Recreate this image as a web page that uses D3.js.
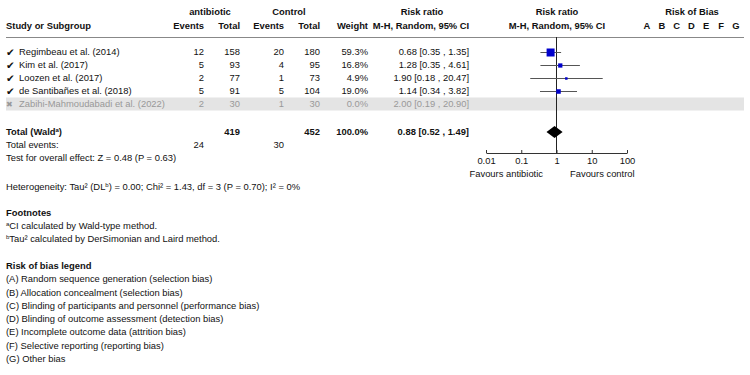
<!DOCTYPE html>
<html lang="en">
<head>
<meta charset="UTF-8">
<title>Forest plot</title>
<script src="https://cdn.jsdelivr.net/npm/d3@7"></script>
<style>
    body{margin:0;background:#fff;}
    svg text{font-family:"Liberation Sans",Arial,sans-serif;font-size:9.4px;fill:#111;}
    .b{font-weight:bold;}
    .axis .domain,.axis line{stroke:#333;}
</style>
</head>
<body>
<svg width="750" height="375"></svg>
<script>
    // study data
    var studies = ['Regimbeau et al. (2014)','Kim et al. (2017)','Loozen et al. (2017)','de Santibañes et al. (2018)','Zabihi-Mahmoudabadi et al. (2022)'];
    var eventsA = [12,5,2,5,2];
    var totalA = [158,93,77,91,30];
    var eventsC = [20,4,1,5,1];
    var totalC = [180,95,73,104,30];
    var weights = [59.3,16.8,4.9,19.0,0.0];
    var rr = [0.68,1.28,1.90,1.14,2.00];
    var lo = [0.35,0.35,0.18,0.34,0.19];
    var hi = [1.35,4.61,20.47,3.82,20.90];
    var included = [true,true,true,true,false];
    // pooled
    var total = {nA:419,nC:452,eA:24,eC:30,w:'100.0%',rr:0.88,lo:0.52,hi:1.49};
    var axisTicks = [0.01,0.1,1,10,100];
    var robLetters = ['A','B','C','D','E','F','G'];
    var robLegend = ['(A) Random sequence generation (selection bias)','(B) Allocation concealment (selection bias)',
        '(C) Blinding of participants and personnel (performance bias)','(D) Blinding of outcome assessment (detection bias)',
        '(E) Incomplete outcome data (attrition bias)','(F) Selective reporting (reporting bias)','(G) Other bias'];

    var svg = d3.select('svg');
    var x = d3.scaleLog().domain([0.01,100]).range([486,627]);
    var rowY = d3.scaleLinear().domain([0,1]).range([52,65]); // row index -> y
    var size = d3.scaleSqrt().domain([0,59.3]).range([0,8]);

    function txt(xp,yp,s,anchor,cls){
        return svg.append('text').attr('x',xp).attr('y',yp).attr('dy','0.35em')
            .attr('text-anchor',anchor||'start').attr('class',cls||null).text(s);
    }

    // headers
    txt(210,12,'antibiotic','middle','b');
    txt(289,12,'Control','middle','b');
    txt(422,12,'Risk ratio','middle','b');
    txt(557,12,'Risk ratio','middle','b');
    txt(692,12,'Risk of Bias','middle','b');
    txt(6,26,'Study or Subgroup','start','b');
    txt(204,26,'Events','end','b');
    txt(240,26,'Total','end','b');
    txt(284,26,'Events','end','b');
    txt(320,26,'Total','end','b');
    txt(368,26,'Weight','end','b');
    txt(421,26,'M-H, Random, 95% CI','middle','b');
    txt(557,26,'M-H, Random, 95% CI','middle','b');
    robLetters.forEach(function(l,i){ txt(647+i*14.8,26,l,'middle','b'); });

    svg.append('line').attr('x1',6).attr('x2',744).attr('y1',37.5).attr('y2',37.5)
        .attr('stroke','#888').attr('stroke-width',1);

    // excluded rows background
    studies.forEach(function(s,i){
        if(!included[i]) svg.append('rect').attr('x',6).attr('width',738)
            .attr('y',rowY(i)-6.5).attr('height',13).attr('fill','#e4e4e4');
    });

    // line of no effect
    svg.append('line').attr('x1',x(1)).attr('x2',x(1)).attr('y1',37).attr('y2',153)
        .attr('stroke','#222').attr('stroke-width',1);

    studies.forEach(function(s,i){
        var y = rowY(i), g = svg.append('g');
        var col = included[i] ? '#111' : '#999';
        g.append('text').attr('x',6).attr('y',y).attr('dy','0.35em')
            .style('font-family','DejaVu Sans').style('font-size', included[i] ? '10.5px' : '8px').style('fill',col)
            .text(included[i] ? '\u2714' : '\u2716');
        [[19,s,'start'],[204,eventsA[i],'end'],[240,totalA[i],'end'],[284,eventsC[i],'end'],[320,totalC[i],'end'],
         [368,weights[i].toFixed(1)+'%','end'],[469,rr[i].toFixed(2)+' ['+lo[i].toFixed(2)+' , '+hi[i].toFixed(2)+']','end']]
            .forEach(function(c){
                g.append('text').attr('x',c[0]).attr('y',y).attr('dy','0.35em').attr('text-anchor',c[2])
                    .style('fill',col).text(c[1]);
            });
        if(included[i]){
            g.append('line').attr('x1',x(lo[i])).attr('x2',x(hi[i])).attr('y1',y+0.5).attr('y2',y+0.5)
                .attr('stroke','#555').attr('stroke-width',1);
            var w = Math.max(size(weights[i]),2.5);
            g.append('rect').attr('x',x(rr[i])-w/2).attr('y',y-w/2+0.5).attr('width',w).attr('height',w)
                .attr('fill','#0000cc');
        }
    });

    // total row
    var ty = 132;
    var tt = svg.append('text').attr('x',6).attr('y',ty).attr('dy','0.35em').attr('class','b');
    tt.append('tspan').text('Total (Wald');
    tt.append('tspan').attr('baseline-shift','super').style('font-size','6px').text('a');
    tt.append('tspan').text(')');
    txt(240,ty,total.nA,'end','b');
    txt(320,ty,total.nC,'end','b');
    txt(368,ty,total.w,'end','b');
    txt(469,ty,total.rr.toFixed(2)+' ['+total.lo.toFixed(2)+' , '+total.hi.toFixed(2)+']','end','b');
    svg.append('path').attr('fill','#000')
        .attr('d','M'+x(total.lo)+','+ty+'L'+x(total.rr)+','+(ty-6)+'L'+x(total.hi)+','+ty+'L'+x(total.rr)+','+(ty+6)+'Z');

    txt(6,145,'Total events:');
    txt(204,145,total.eA,'end');
    txt(284,145,total.eC,'end');
    txt(6,158,'Test for overall effect: Z = 0.48 (P = 0.63)');

    // axis
    svg.append('g').attr('class','axis').attr('transform','translate(0,153)')
        .call(d3.axisBottom(x).tickValues(axisTicks).tickFormat(function(d){return d;})
            .tickSizeInner(-3).tickSizeOuter(0).tickPadding(4))
        .call(function(g){ g.selectAll('text').style('font-size','9.4px').attr('fill','#111'); });
    txt(543,174,'Favours antibiotic','end');
    txt(570,174,'Favours control','start');

    // heterogeneity
    var het = svg.append('text').attr('x',6).attr('y',187).attr('dy','0.35em');
    het.append('tspan').text('Heterogeneity: Tau\u00b2 (DL');
    het.append('tspan').attr('baseline-shift','super').style('font-size','6px').text('b');
    het.append('tspan').text(') = 0.00; Chi\u00b2 = 1.43, df = 3 (P = 0.70); I\u00b2 = 0%');

    // footnotes
    txt(6,213,'Footnotes','start','b');
    var f1 = svg.append('text').attr('x',6).attr('y',226).attr('dy','0.35em');
    f1.append('tspan').attr('baseline-shift','super').style('font-size','6px').text('a');
    f1.append('tspan').text('CI calculated by Wald-type method.');
    var f2 = svg.append('text').attr('x',6).attr('y',239).attr('dy','0.35em');
    f2.append('tspan').attr('baseline-shift','super').style('font-size','6px').text('b');
    f2.append('tspan').text('Tau\u00b2 calculated by DerSimonian and Laird method.');

    txt(6,266,'Risk of bias legend','start','b');
    robLegend.forEach(function(s,i){ txt(6,279+i*13.3,s); });
</script>
</body>
</html>
